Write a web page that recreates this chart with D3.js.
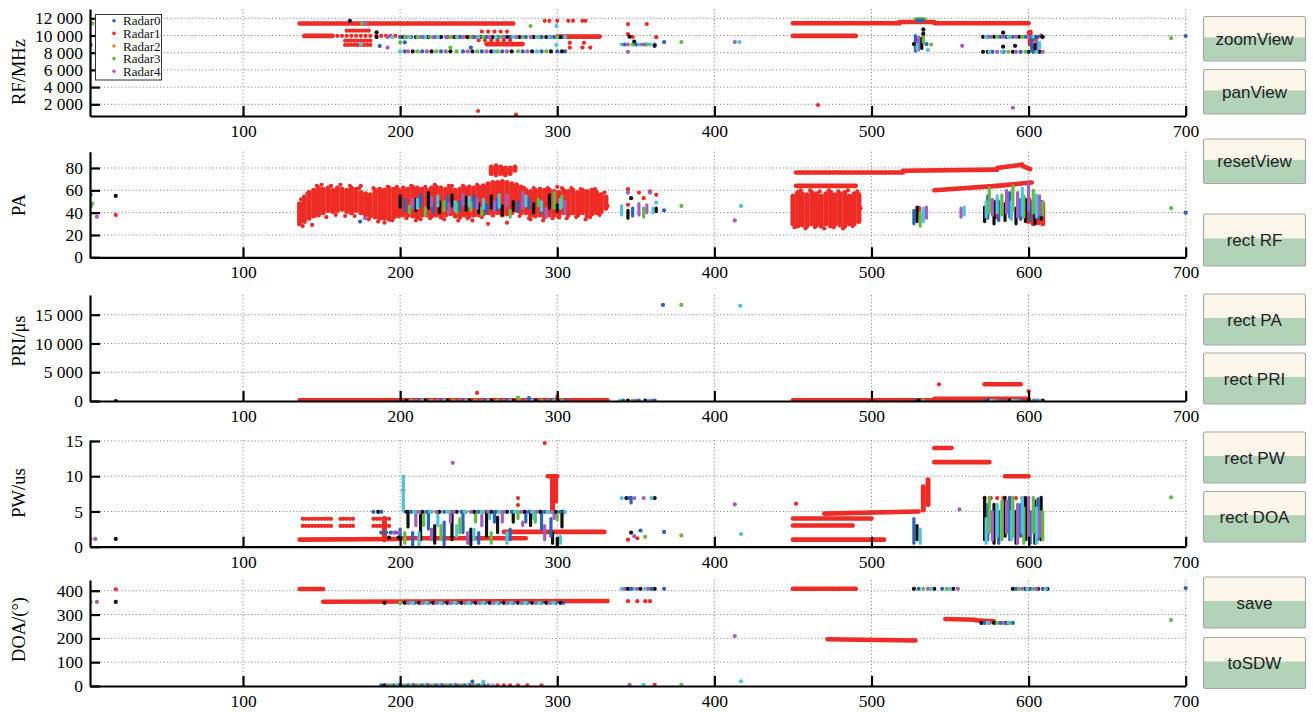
<!DOCTYPE html>
<html><head><meta charset="utf-8">
<script src="https://cdn.jsdelivr.net/npm/d3@7"></script>
<style>body{margin:0;background:#fff;overflow:hidden}</style>
</head><body><svg id="c" width="1313" height="712"></svg>
<script>
// ---------- series ----------
const seriesNames = ["Radar0","Radar1","Radar2","Radar3","Radar4","Radar5","Radar6"];
const legendCount = 5;
const xTicks = [100,200,300,400,500,600,700];
const rfTicks = [2000,4000,6000,8000,10000,12000];
const paTicks = [0,20,40,60,80];
const priTicks = [0,5000,10000,15000];
const pwTicks = [0,5,10,15];
const doaTicks = [0,100,200,300,400];
const buttonLabels = ["zoomView","panView","resetView","rect RF","rect PA","rect PRI","rect PW","rect DOA","save","toSDW"];

// ---------- RF (MHz) ----------  runs: [s,x0,y0,x1,y1]  cols: [s,x,y0,y1]  rows: [s,y,[x...]]  pts: [s,x,y]
const rfRuns = [
 [1,136,11400,272,11400],[1,450,11420,518,11420],[1,518,11560,540,11560],[1,540,11420,600,11420],
 [1,139,9950,157,9950],[1,450,9950,490,9950],[1,300,9870,327,9870],[1,255,9000,278,9000],
 [3,528,11900,534,11900],[0,529,11750,533,11750]
];
const rfCols = [
 [1,601,9000,10400],[0,528,8200,10000],[4,530,8300,9800],[5,532,8500,9700],[6,529,8400,9000],[3,533,9200,10400],
 [0,602,8300,9900],[4,605,8400,9800],[6,607,8500,9200],[5,604,8200,9000]
];
const rfRows = [
 [1,10560,[166,168,170,172,174,176,178,180]],
 [1,9400,[165,167,169,171,173,175,177,179,181]],
 [1,8900,[165,167,169,171,173,175,177,179,181]],
 [1,9960,[160,163,166,169,172,175,178,181,185,188,191,194,197]],
 [1,9850,[226,230,234,238,242,246,250,254,258,262,266,270,285,290,295]],
 [1,10450,[252,256,260,264,268]],
 [1,9450,[250,254,258,262,266,270]],
 [1,11700,[292,295,300,307,310,316,318]],
 [1,8600,[308,316,321]],[1,9150,[308,317]],
 [0,9820,[200,207,215,222,230,238,247,255,262,270,280,290,298,303]],
 [5,9820,[185,202,210,218,226,235,243,251,259,268,276,285,293,302]],
 [4,9820,[192,204,213,221,229,240,249,257,266,274,283,296]],
 [3,9820,[203,211,219,232,245,253,264,278,288,300]],
 [6,9820,[195,206,216,224,236,250,261,272,287,295,305]],
 [0,8150,[203,214,226,240,252,265,278,290,300,305]],
 [5,8150,[208,220,232,246,258,271,284,296,303]],
 [4,8150,[205,217,229,243,255,268,281]],
 [3,8150,[211,223,236,249,262,275,293]],
 [6,8150,[200,260,287]],
 [6,8950,[341,352,359]],[0,8950,[343,350,356,362]],[4,8950,[345,354]],[3,8950,[348,357]],
 [0,9240,[368]],[3,9240,[379]],[4,9240,[413]],[6,9240,[416]],
 [5,9850,[571,578,586,594,604,609]],[0,9850,[574,582,590,598,606]],[4,9850,[576,584,592,600]],
 [3,9850,[580,588,596]],[6,9850,[573,587,603]],
 [5,8100,[571,574,590,600,607]],[0,8100,[577,584,595,603]],[4,8100,[580,592,609]],
 [3,8100,[587,598]],[6,8100,[575,583,605]]
];
const rfPts = [
 [1,345,11330],[1,357,11330],[1,345,10170],[1,348,9830],[1,363,9800],
 [1,249.6,1220],[1,273.8,790],[1,466,1920],
 [1,600,10300],[1,603,9500],[1,606,9000],[1,605,9800],[1,608,10000],
 [5,346,9860],[5,362,8800],[5,349,9300],[4,345,8100],
 [6,299.5,11100],[6,299.5,8900],[3,283,11100],[0,245,8600],[3,232,8600],
 [0,187,8780],[4,192,8600],[3,200,9200],[0,203,9200],
 [5,533,10700],[5,533,10200],[5,527,9000],[0,535,9000],[6,536,8300],[3,538,8950],[4,557.7,8800],
 [5,583.8,10330],[5,583.8,8700],[5,591.4,8800],[5,608.6,9850],
 [3,690.7,9700],[0,700,9940],[4,590,1600],
 [0,3,8900],[3,4,11420],
 [5,168,11700],[3,175.7,11400],[4,178,11400],[5,185,10370],[6,175,9000]
];

// ---------- PA ----------
const paRuns = [
 [1,452,64,490,64],[1,452,76,520,76],[1,520,77.5,580,78.5],[1,580,80,596,83],[1,596,82,601,79],
 [1,540,60,580,64],[1,580,64,602,67]
];
const paCols = [
 [1,136,30,48],[1,139,32,54],[1,142,35,58],[1,145,37,60],[1,148,38,62],[1,151,40,61],[1,154,42,62],
 [1,157,41,60],[1,160,42,62],[1,163,43,61],[1,166,41,60],[1,169,40,62],[1,172,42,61],[1,175,40,58],
 [1,178,38,57],[1,181,37,56],[1,184,36,60],[1,187,35,61],[1,190,35,60],[1,193,34,62],[1,196,36,61],
 [1,199,37,60],[1,202,38,62],[1,205,38,61],[1,208,37,63],[1,211,36,62],[1,214,38,61],[1,217,38,60],
 [1,220,37,62],[1,223,38,63],[1,226,36,62],[1,229,38,61],[1,232,39,62],[1,235,37,60],[1,238,36,61],
 [1,241,38,62],[1,244,37,63],[1,247,38,62],[1,250,38,63],[1,253,39,64],[1,256,40,66],[1,259,38,67],
 [1,262,40,67],[1,265,38,68],[1,268,39,67],[1,271,40,66],[1,274,42,65],[1,277,40,63],[1,280,40,60],
 [1,283,38,59],[1,286,37,60],[1,289,38,61],[1,292,36,60],[1,295,38,60],[1,298,38,59],[1,301,36,58],
 [1,304,40,60],[1,307,38,59],[1,310,40,60],[1,313,38,58],[1,316,40,60],[1,319,37,59],[1,322,39,60],
 [1,325,40,58],[1,328,41,56],[1,331,44,54],
 [1,258,75,81],[1,261,74,82],[1,264,75,81],[1,267,74,80],[1,270,75,80],[1,273,78,81],
 [1,450,30,55],[1,453,28,58],[1,456,29,57],[1,459,28,56],[1,462,30,58],[1,465,29,57],[1,468,28,55],
 [1,471,30,57],[1,474,28,58],[1,477,30,56],[1,480,29,57],[1,483,28,58],[1,486,30,55],[1,489,30,57],[1,492,32,56],
 [1,600,32,52],[1,603,30,50],[1,606,31,52],[1,609,30,48],[1,580,36,50],
 [5,200,45,55],[5,210,42,52],[5,218,44,58],[5,225,40,50],[5,233,46,56],[5,242,42,54],[5,250,40,48],
 [5,258,44,55],[5,265,38,46],[5,272,42,50],[5,285,40,48],[5,295,44,56],[5,300,41,47],
 [0,203,42,52],[0,213,46,56],[0,221,40,48],[0,230,44,54],[0,238,42,50],[0,247,45,55],[0,255,40,47],
 [0,262,43,52],[0,275,41,50],[0,282,44,52],[0,290,40,45],
 [3,206,40,46],[3,216,38,44],[3,228,42,50],[3,236,40,48],[3,245,42,49],[3,252,38,44],[3,270,36,42],
 [3,288,46,52],[3,298,44,58],[3,303,45,55],
 [4,208,44,52],[4,220,46,54],[4,231,40,48],[4,240,47,56],[4,249,44,52],[4,260,42,50],[4,268,46,56],
 [4,278,44,58],[4,293,36,44],[4,305,40,50],
 [6,211,44,52],[6,224,46,55],[6,235,42,50],[6,244,46,54],[6,253,44,52],[6,263,45,56],[6,280,46,55],
 [6,290,42,50],[6,302,44,52],
 [6,341,38,46],[5,345,35,42],[0,348,37,44],[4,352,38,48],[3,355,36,44],[4,357,40,47],[6,361,40,44],[5,363,41,44],
 [0,527,30,42],[5,529,32,45],[3,531,28,40],[6,533,32,44],[4,535,35,45],[1,530,36,44],
 [4,557,36,44],[6,559,38,45],
 [5,572,32,45],[5,578,30,50],[5,585,33,48],[5,592,30,44],[5,598,32,52],[5,604,30,46],[5,608,34,50],
 [0,574,35,55],[0,581,33,50],[0,588,36,58],[0,595,34,52],[0,601,33,48],[0,606,35,54],
 [3,575,40,62],[3,583,38,56],[3,590,42,64],[3,597,36,55],[3,603,40,60],[3,609,38,50],
 [4,577,38,52],[4,586,40,60],[4,593,36,58],[4,600,42,66],[4,607,38,55],
 [6,573,36,50],[6,580,40,55],[6,589,34,50],[6,596,38,62],[6,605,36,56]
];
const paRows = [];
const paPts = [
 [1,138,28],[1,150,65],[1,175,64],[1,190,31],[1,210,33],[1,233,64],[1,256,30],[1,283,34],[1,300,63],
 [1,318,34],[1,246,33],[1,268,31],
 [1,137,52],[1,141,57],[1,144,29],[1,147,64],[1,153,36],[1,156,64],[1,159,38],[1,162,65],[1,165,37],
 [1,168,64],[1,171,37],[1,174,62],[1,180,34],[1,183,62],[1,186,32],[1,192,63],[1,195,33],[1,198,63],
 [1,204,35],[1,207,64],[1,213,34],[1,216,63],[1,219,35],[1,222,65],[1,228,34],[1,231,64],[1,237,33],
 [1,240,64],[1,243,35],[1,249,65],[1,252,36],[1,276,37],[1,279,62],[1,282,35],[1,285,62],[1,291,33],
 [1,294,62],[1,297,35],[1,303,62],[1,306,35],[1,309,62],[1,312,36],[1,315,61],[1,321,36],[1,324,61],
 [1,327,38],[1,330,58],[1,332,46],
 [1,451,27],[1,455,60],[1,458,26],[1,461,60],[1,464,27],[1,467,59],[1,470,26],[1,473,60],[1,476,27],
 [1,479,59],[1,482,26],[1,485,60],[1,488,28],[1,491,59],[1,493,44],
 [4,177.6,35],[0,174.5,32],
 [1,345,61],[1,345,47],[1,352,58],[1,355,53],[1,359,59],[1,363,56],[5,347,53],[6,363,49],[4,345,58],[4,359,58],
 [0,368,42],[3,379,46],[6,417,46],[4,413,33],
 [0,3,56],[0,3,46],[3,4,48],[4,7,36.4],[5,19,55],[1,19,38],
 [3,690.7,44],[0,700,40]
];

// ---------- PRI (us) ----------
const priRuns = [[1,136,120,332,120],[1,450,120,600,120],[1,572,2900,595,2900],[1,540,400,600,400]];
const priCols = [];
const priRows = [
 [0,80,[200,212,226,240,254,268,282,296,305,342,352,362,528,572,584,596,606]],
 [5,80,[204,216,230,244,258,272,286,300,345,356,530,575,588,600,609]],
 [3,80,[207,220,234,248,262,276,290,303,348,533,578,592,603]],
 [4,80,[210,224,238,252,266,280,294,350,360,580,594,604]],
 [6,80,[214,228,242,256,270,284,298,340,358,576,590,607]]
];
const priPts = [
 [1,249,1400],[1,543,2900],[1,600,1700],[0,367.3,16700],[3,379,16700],[6,416.5,16550],[5,19,0],
 [3,275,600],[0,282,500],[1,300,700]
];

// ---------- PW (us) ----------
const pwRuns = [
 [1,136,1.0,200,1.1],[1,200,1.2,280,1.2],[1,266,2.1,330,2.1],[1,294,10,300,10],
 [1,450,4,500,4],[1,450,3,488,3],[1,450,1,508,1],[1,470,4.7,530,5],
 [1,540,14,551,14],[1,540,12,575,12],[1,585,10,600,10]
];
const pwCols = [
 [1,190,1,4],[1,297,5,10],[1,299,6.5,9.8],[1,533,5.2,8.5],[1,536,6,9.5],
 [5,205,2.8,5],[5,213,1,4.5],[5,222,0.5,3],[5,233,1,5],[5,245,0.3,2.5],[5,255,1.5,5],[5,262,2,4.2],
 [5,272,3.5,5],[5,283,3,5],[5,297,0.5,2],[5,300,0,1.2],[5,303,2.8,5],
 [0,200,1.5,2.5],[0,208,0,2],[0,218,2.5,5],[0,228,0.3,3.5],[0,240,2,5],[0,250,0.5,2],[0,260,3.5,5],
 [0,270,1,2.5],[0,280,3.5,5],[0,290,2.5,5],[0,296,1.5,4],
 [3,203,0.5,2],[3,215,3,5],[3,226,1,3],[3,238,2,4],[3,248,3.5,5],[3,258,0.5,2],[3,275,4,5],[3,286,3.5,4.5],[3,300,3.8,5],
 [4,210,3,5],[4,220,1,2.5],[4,232,3.5,5],[4,243,0.5,2],[4,252,3,4.5],[4,265,3.5,5],[4,278,3,3.5],[4,292,1,3],[4,298,4,5],
 [6,202,5,10],[6,212,0,2],[6,224,3,5],[6,236,1.5,3],[6,247,1,2.5],[6,257,4,5],[6,268,0.5,2],[6,285,4,5],[6,302,0.5,1.5],
 [0,347,6.2,7],
 [0,527,0.5,4],[5,529,1,3],[6,531,0.5,2.5],
 [5,572,1,7],[5,578,0.5,6],[5,585,1.5,7],[5,592,0.5,5],[5,598,1,7],[5,604,0.5,6.5],[5,608,1,7],
 [0,574,1,6],[0,581,0.5,5],[0,588,1,7],[0,595,1.5,6],[0,601,0.5,5],[0,606,1,6.8],
 [3,575,2,7],[3,583,1,6.5],[3,590,1.5,7],[3,597,0.5,5.5],[3,603,2,7],[3,609,1,5],
 [4,577,1,5],[4,586,2,6.5],[4,593,0.5,6],[4,600,1,7],[4,607,1.5,5],
 [6,573,0.5,4],[6,580,1.5,6],[6,589,1,5],[6,596,2,7],[6,605,0.5,5.5]
];
const pwRows = [
 [1,3.95,[138,140,142,144,146,148,150,152,154,156,162,164,166,168,170,183,185,187,189,191,193]],
 [1,2.95,[138,140,142,144,146,148,150,152,154,156,162,164,166,168,170,183,185,187,189,191,193]],
 [5,4.95,[186,204,214,225,236,247,258,268,279,289,299,304]],
 [0,4.95,[183,188,207,217,228,239,250,261,271,282,292,302]],
 [3,4.95,[210,220,231,242,253,264,274,285,295]],
 [4,4.95,[212,223,234,245,256,266,277,287,297]],
 [6,4.95,[209,219,230,241,252,263,273,284,294,305]],
 [0,2,[188,191,194,197]],[4,2,[196,199]],[5,1.3,[193,199]],
 [5,6.9,[344,362]],[6,6.9,[341,360]],[0,6.9,[346]],[4,6.9,[349,355]],
 [1,6.9,[572,576,580,584,588,592,596]]
];
const pwPts = [
 [1,292,14.7],[1,275,6.9],[1,275,5.9],[4,233.5,11.9],[1,202,8],
 [5,347,2],[0,353,2.3],[1,345,1],[1,351,1.2],[4,349,1.5],[3,356,1.4],
 [0,368,2.1],[3,379,1.6],[4,413,6],[6,417,1.8],
 [1,452,6.1],[4,556,5.3],[3,690.7,7],
 [3,3,1.1],[4,6,1.1],[5,19,1.1]
];

// ---------- DOA (deg) ----------
const doaRuns = [
 [1,136,407,151,407],[1,151,354,332,357],[1,450,408,490,408],[1,472,196,528,191],
 [1,547,281,566,278],[1,566,276,578,272]
];
const doaCols = [];
const doaRows = [
 [0,349,[200,209,218,227,236,245,254,263,272,281,290,299,304]],
 [5,349,[190,203,212,221,230,239,248,257,266,275,284,293,302]],
 [3,349,[200,206,215,224,233,242,251,260,269,278,287,296]],
 [4,349,[205,214,223,232,241,250,259,268,277,286,295]],
 [6,349,[208,217,226,235,244,253,262,271,280,289,298]],
 [0,3,[188,196,205,214,223,232,241,250]],
 [5,3,[190,199,208,217,226,235,244,253]],
 [4,3,[192,201,210,219,228,237,246,256]],
 [3,3,[194,203,212,221,230,239,248]],
 [6,3,[198,207,216,225,234,243,252,259]],
 [1,3,[262,266,270,275,281,290]],
 [6,408,[341,349,356]],[4,408,[343,351,358]],[5,408,[345,353,362]],[0,408,[347,360,368]],
 [1,356,[345,351,356,359]],
 [5,408,[527,540,552]],[0,408,[530,545]],[3,408,[533,548]],[4,408,[536,555]],[6,408,[538,550]],
 [5,265,[570,578,586]],[0,265,[572,582,590]],[4,265,[575,584]],[3,265,[580,588]],[6,265,[574,587]],
 [5,408,[590,598,606,612]],[0,408,[592,601,609]],[3,408,[594,603]],[4,408,[596,605]],[6,408,[599,611]]
];
const doaPts = [
 [1,19,406],[5,19,353],[3,3,353],[4,7,353],
 [0,246,18],[6,253,18],[4,346,5],[6,355,5],[1,362,5],[3,379,5],[6,417,20],[4,413,210],
 [3,690.7,277],[0,700,411]
];

// ---------- drawing ----------
const seriesColors = ["#2c62b8","#ee2b25","#f0882a","#62bb46","#a35ec2","#111111","#52c3d6"];
const svg = d3.select("#c");
const X0 = 90, X1 = 1185.7;
const x = d3.scaleLinear().domain([2.6,700]).range([X0,X1]);
const serif = "'Liberation Serif','Times New Roman',serif";

const panels = [
 {title:"RF/MHz", ty:72, top:9, bottom:116, domain:[640,13080], ticks:rfTicks, runs:rfRuns, cols:rfCols, rows:rfRows, pts:rfPts},
 {title:"PA", ty:205, top:151.7, bottom:257.3, domain:[0,94.6], ticks:paTicks, runs:paRuns, cols:paCols, rows:paRows, pts:paPts},
 {title:"PRI/\u03bcs", ty:341, top:295, bottom:401, domain:[0,18425], ticks:priTicks, runs:priRuns, cols:priCols, rows:priRows, pts:priPts},
 {title:"PW/us", ty:493, top:440, bottom:546.7, domain:[0,15.14], ticks:pwTicks, runs:pwRuns, cols:pwCols, rows:pwRows, pts:pwPts},
 {title:"DOA/(\u00b0)", ty:629.5, top:580, bottom:686, domain:[0,445], ticks:doaTicks, runs:doaRuns, cols:doaCols, rows:doaRows, pts:doaPts}
];
const fmt = v => d3.format(",")(v).replace(/,/g," ");

panels.forEach(p => {
  const y = d3.scaleLinear().domain(p.domain).range([p.bottom,p.top]);
  const g = svg.append("g");
  // grid
  g.selectAll(null).data(p.ticks.filter(t=>t>p.domain[0])).join("line")
    .attr("x1",X0).attr("x2",X1+1).attr("y1",d=>y(d)).attr("y2",d=>y(d))
    .attr("stroke","#8c8c8c").attr("stroke-width",1).attr("stroke-dasharray","1.2,2.3");
  g.selectAll(null).data(xTicks).join("line")
    .attr("x1",d=>x(d)).attr("x2",d=>x(d)).attr("y1",p.top).attr("y2",p.bottom)
    .attr("stroke","#8c8c8c").attr("stroke-width",1).attr("stroke-dasharray","1.2,2.3");
  const clip = "clip"+p.title.replace(/[^A-Za-z]/g,"");
  svg.append("clipPath").attr("id",clip).append("rect")
    .attr("x",X0).attr("y",p.top-3).attr("width",X1-X0+4).attr("height",p.bottom-p.top+3);
  const d = g.append("g").attr("clip-path",`url(#${clip})`);
  const order = s => s===1 ? 0 : 1;
  [0,1].forEach(layer => {
    d.selectAll(null).data(p.runs.filter(r=>order(r[0])===layer)).join("line")
      .attr("x1",r=>x(r[1])).attr("y1",r=>y(r[2])).attr("x2",r=>x(r[3])).attr("y2",r=>y(r[4]))
      .attr("stroke",r=>seriesColors[r[0]]).attr("stroke-width",r=>r[0]===1?4.6:3.6).attr("stroke-linecap","round");
    d.selectAll(null).data(p.cols.filter(r=>order(r[0])===layer)).join("line")
      .attr("x1",r=>x(r[1])).attr("x2",r=>x(r[1])).attr("y1",r=>y(r[2])).attr("y2",r=>y(r[3]))
      .attr("stroke",r=>seriesColors[r[0]]).attr("stroke-width",r=>r[0]===1?5:3.2).attr("stroke-linecap","round");
    const rp = [];
    p.rows.filter(r=>order(r[0])===layer).forEach(r => r[2].forEach(xv => rp.push([r[0],xv,r[1]])));
    d.selectAll(null).data(rp.concat(p.pts.filter(r=>order(r[0])===layer))).join("circle")
      .attr("cx",r=>x(r[1])).attr("cy",r=>y(r[2])).attr("r",2.1)
      .attr("fill",r=>seriesColors[r[0]]);
  });
  // axes
  const ya = d3.axisLeft(y).tickValues(p.ticks).tickFormat(fmt).tickSize(-10).tickSizeOuter(0).tickPadding(7);
  const yg = g.append("g").attr("transform",`translate(${X0},0)`).call(ya);
  const xa = d3.axisBottom(x).tickValues(xTicks).tickFormat(d3.format("d")).tickSize(-10).tickSizeOuter(0).tickPadding(8.5);
  const xg = g.append("g").attr("transform",`translate(0,${p.bottom})`).call(xa);
  [yg,xg].forEach(a => {
    a.select(".domain").attr("stroke","#000").attr("stroke-width",2.2);
    a.selectAll(".tick line").attr("stroke","#000").attr("stroke-width",2.2);
    a.selectAll("text").attr("font-family",serif).attr("font-size",17.5).attr("fill","#000");
  });
  g.append("text").attr("transform",`translate(19,${p.ty}) rotate(-90)`)
    .attr("text-anchor","middle").attr("dominant-baseline","central")
    .attr("font-family",serif).attr("font-size",18.5).attr("fill","#000").text(p.title);
});

// legend
const lg = svg.append("g");
lg.append("rect").attr("x",95.5).attr("y",14.5).attr("width",66).attr("height",65.5)
  .attr("fill","#fff").attr("stroke","#333").attr("stroke-width",1);
const li = lg.selectAll(null).data(seriesNames.slice(0,legendCount)).join("g")
  .attr("transform",(d,i)=>`translate(0,${20.7+i*12.65})`);
li.append("circle").attr("cx",114).attr("cy",0).attr("r",1.8).attr("fill",(d,i)=>seriesColors[i]);
li.append("text").attr("x",123).attr("y",0).attr("dominant-baseline","central")
  .attr("font-family",serif).attr("font-size",13).attr("fill","#111").text(d=>d);

// buttons
const btnBoxes = [[16.5,44.5],[69.5,44.5],[139,44.5],[214,52],[294,51],[353,51],[432,51],[491.5,50.5],[577,51],[637.5,51]];
const bg = svg.selectAll(null).data(buttonLabels).join("g")
  .attr("transform",(d,i)=>`translate(1203.5,${btnBoxes[i][0]})`);
bg.append("rect").attr("width",102).attr("height",(d,i)=>btnBoxes[i][1]).attr("fill","#fdf6ea");
bg.append("rect").attr("y",(d,i)=>btnBoxes[i][1]*0.47).attr("width",102).attr("height",(d,i)=>btnBoxes[i][1]*0.53).attr("fill","#b2d3b8");
bg.append("rect").attr("width",102).attr("height",(d,i)=>btnBoxes[i][1]).attr("rx",2)
  .attr("fill","none").attr("stroke","#a8a8a8").attr("stroke-width",1.2);
bg.append("text").attr("x",51).attr("y",(d,i)=>btnBoxes[i][1]/2+6).attr("text-anchor","middle")
  .attr("font-family","'Liberation Sans',Arial,sans-serif").attr("font-size",17).attr("fill","#222").text(d=>d);
</script></body></html>
